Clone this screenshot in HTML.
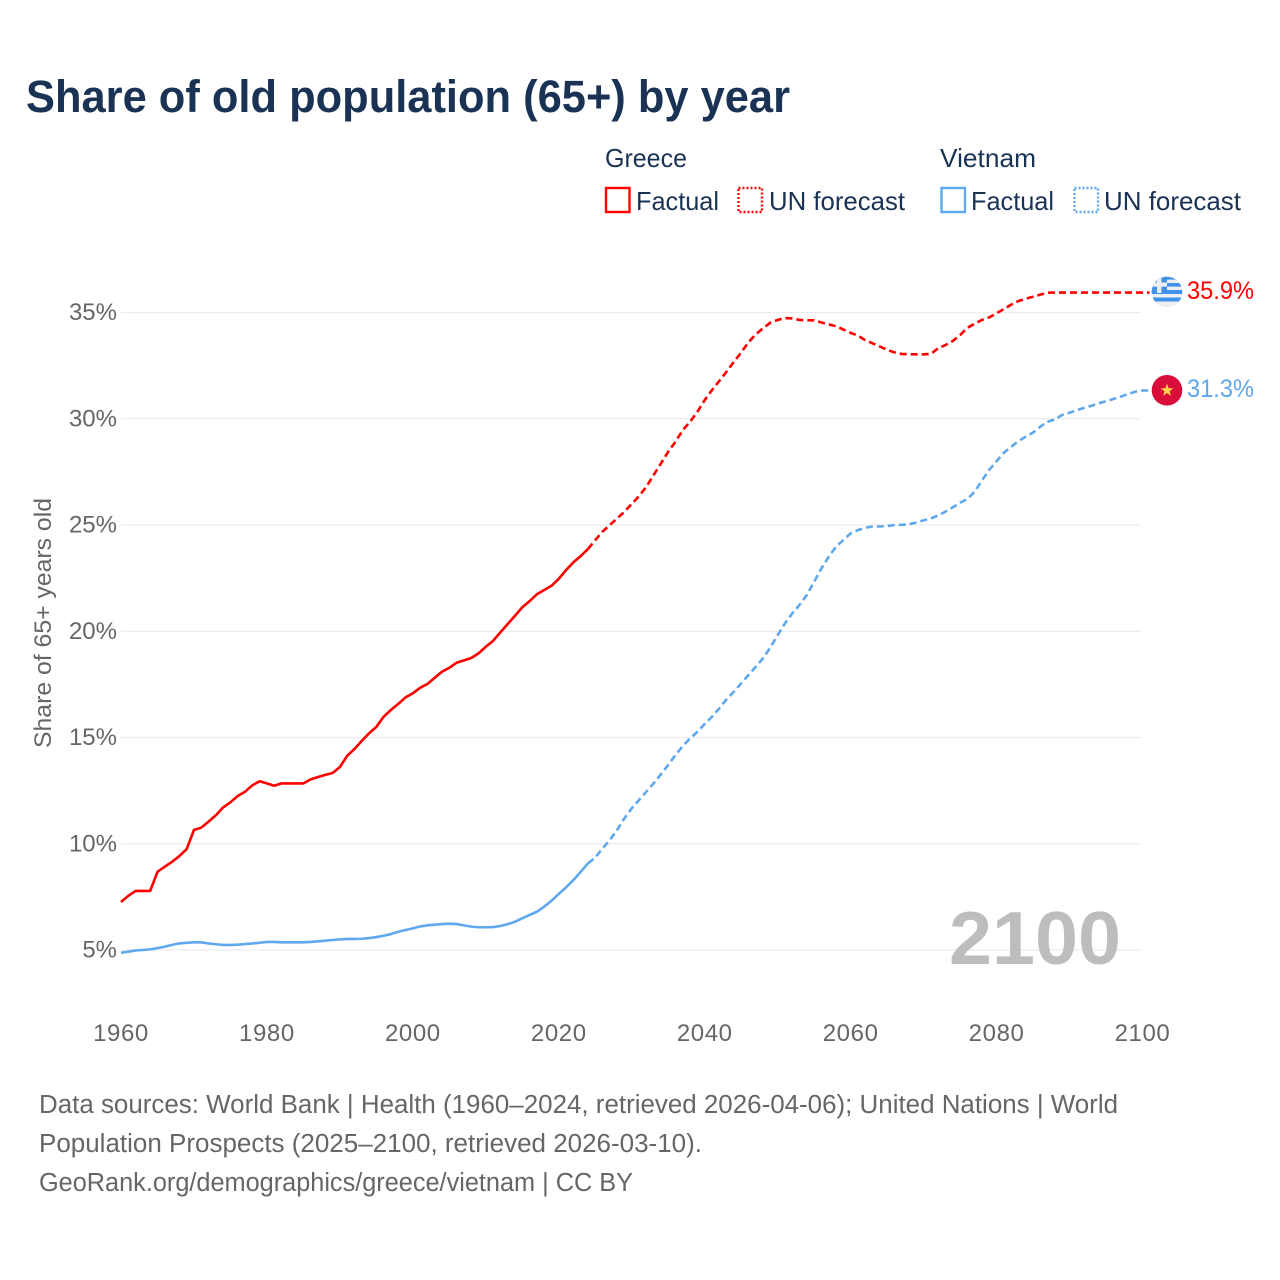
<!DOCTYPE html>
<html lang="en">
<head>
<meta charset="utf-8">
<title>Share of old population (65+) by year</title>
<style>
html,body{margin:0;padding:0;background:#fff;}
svg{display:block;font-family:"Liberation Sans",sans-serif;}
</style>
</head>
<body>
<svg id="chart" xmlns="http://www.w3.org/2000/svg" width="1280" height="1280" viewBox="0 0 1280 1280">
  <rect x="0" y="0" width="1280" height="1280" fill="#fff"/>
  <text x="26" y="112" font-size="45" font-weight="700" fill="#1a3355" textLength="764" lengthAdjust="spacingAndGlyphs">Share of old population (65+) by year</text>

  <g font-size="26" fill="#1a3355">
    <text x="605" y="167" textLength="82" lengthAdjust="spacingAndGlyphs">Greece</text>
    <rect x="606" y="188" width="23.5" height="24" fill="none" stroke="#ff0000" stroke-width="2.4"/>
    <text x="636" y="210" textLength="83" lengthAdjust="spacingAndGlyphs">Factual</text>
    <rect x="738.5" y="188" width="23.5" height="24" fill="none" stroke="#ff0000" stroke-width="2.4" stroke-dasharray="2 2"/>
    <text x="769" y="210" textLength="136" lengthAdjust="spacingAndGlyphs">UN forecast</text>
    <text x="940" y="167" textLength="96" lengthAdjust="spacingAndGlyphs">Vietnam</text>
    <rect x="941.5" y="188" width="23.5" height="24" fill="none" stroke="#5fa8ee" stroke-width="2.4"/>
    <text x="971" y="210" textLength="83" lengthAdjust="spacingAndGlyphs">Factual</text>
    <rect x="1074.5" y="188" width="23.5" height="24" fill="none" stroke="#5fa8ee" stroke-width="2.4" stroke-dasharray="2 2"/>
    <text x="1104" y="210" textLength="137" lengthAdjust="spacingAndGlyphs">UN forecast</text>
  </g>

  <g id="grid"></g>
  <g id="yticks" font-size="24" fill="#666"></g>
  <g id="xticks" font-size="24" fill="#666" letter-spacing="0.6"></g>

  <text transform="translate(51,748) rotate(-90)" x="0" y="0" font-size="24" fill="#666" textLength="250" lengthAdjust="spacingAndGlyphs">Share of 65+ years old</text>

  <text x="949" y="964" font-size="75" font-weight="700" fill="#bdbdbd" textLength="172" lengthAdjust="spacingAndGlyphs">2100</text>

  <g id="series"></g>

  <defs>
    <clipPath id="greece-clip"><circle cx="1167" cy="292" r="15.3"/></clipPath>
    <clipPath id="vietnam-clip"><circle cx="1167" cy="390.3" r="15.3"/></clipPath>
  </defs>
  <g id="flag-greece" clip-path="url(#greece-clip)">
    <rect x="1151" y="276" width="32" height="32" fill="#eeeeee"/>
    <rect x="1151" y="276" width="32" height="3.6" fill="#3f92ea"/>
    <rect x="1151" y="283" width="32" height="3.6" fill="#3f92ea"/>
    <rect x="1151" y="290" width="32" height="4" fill="#3f92ea"/>
    <rect x="1151" y="297.5" width="32" height="4" fill="#3f92ea"/>
    <rect x="1151" y="276" width="16" height="17" fill="#3f92ea"/>
    <rect x="1157" y="276" width="4.4" height="17" fill="#eeeeee"/>
    <rect x="1151" y="282.5" width="16" height="4.2" fill="#eeeeee"/>
  </g>
  <g id="flag-vietnam" clip-path="url(#vietnam-clip)">
    <rect x="1151" y="375" width="32" height="32" fill="#d80d39"/>
    <polygon points="1167,383.6 1168.6,388.2 1173.4,388.3 1169.6,391.2 1171,395.8 1167,393.1 1163,395.8 1164.4,391.2 1160.6,388.3 1165.4,388.2" fill="#ffd24a"/>
  </g>

  <text id="label-greece" x="1187" y="299" font-size="25" fill="#ff0000" textLength="67" lengthAdjust="spacingAndGlyphs">35.9%</text>
  <text id="label-vietnam" x="1187" y="397" font-size="25" fill="#5fa8ee" textLength="67" lengthAdjust="spacingAndGlyphs">31.3%</text>

  <g font-size="25.5" fill="#666">
    <text x="39" y="1113" textLength="1079" lengthAdjust="spacingAndGlyphs">Data sources: World Bank | Health (1960–2024, retrieved 2026-04-06); United Nations | World</text>
    <text x="39" y="1152" textLength="663" lengthAdjust="spacingAndGlyphs">Population Prospects (2025–2100, retrieved 2026-03-10).</text>
    <text x="39" y="1191" textLength="594" lengthAdjust="spacingAndGlyphs">GeoRank.org/demographics/greece/vietnam | CC BY</text>
  </g>
</svg>

<script>
const xTickLabels = [1960, 1980, 2000, 2020, 2040, 2060, 2080, 2100];
const yTickLabels = [5, 10, 15, 20, 25, 30, 35];

const factualStartYear = 1960;
const forecastStartYear = 2024;

const greeceFactual = [7.26,7.55,7.78,7.78,7.78,8.68,8.92,9.15,9.42,9.75,10.65,10.76,11.04,11.34,11.71,11.95,12.25,12.45,12.75,12.94,12.84,12.73,12.84,12.84,12.84,12.84,13.03,13.14,13.24,13.33,13.61,14.14,14.46,14.84,15.2,15.5,15.98,16.3,16.58,16.89,17.08,17.34,17.52,17.81,18.1,18.28,18.52,18.63,18.74,18.96,19.27,19.55,19.95,20.34,20.73,21.13,21.42,21.74,21.94,22.14,22.47,22.88,23.24,23.54,23.87];

const greeceForecast = [23.87,24.29,24.69,25.0,25.31,25.63,25.99,26.36,26.8,27.35,27.9,28.45,28.92,29.47,29.86,30.33,30.88,31.35,31.78,32.22,32.68,33.12,33.6,33.97,34.26,34.52,34.65,34.74,34.72,34.65,34.63,34.63,34.53,34.44,34.35,34.2,34.04,33.91,33.7,33.55,33.4,33.24,33.12,33.05,33.03,33.03,33.03,33.05,33.32,33.47,33.66,33.94,34.28,34.47,34.65,34.77,34.96,35.16,35.37,35.54,35.65,35.74,35.84,35.93,35.94,35.94,35.94,35.94,35.94,35.94,35.94,35.94,35.94,35.94,35.94,35.94,35.94];

const vietnamFactual = [4.87,4.92,4.98,5.0,5.03,5.09,5.16,5.24,5.31,5.34,5.36,5.36,5.31,5.27,5.24,5.24,5.25,5.28,5.31,5.34,5.38,5.38,5.36,5.36,5.36,5.36,5.38,5.41,5.44,5.47,5.5,5.52,5.52,5.53,5.56,5.61,5.67,5.75,5.86,5.94,6.02,6.11,6.16,6.19,6.22,6.24,6.22,6.16,6.1,6.07,6.07,6.08,6.13,6.22,6.33,6.49,6.65,6.8,7.04,7.32,7.64,7.95,8.29,8.68,9.08];

const vietnamForecast = [9.08,9.35,9.78,10.18,10.65,11.2,11.67,12.06,12.45,12.84,13.27,13.71,14.18,14.6,14.96,15.27,15.64,15.98,16.37,16.8,17.16,17.55,17.94,18.33,18.73,19.24,19.82,20.37,20.84,21.24,21.71,22.33,22.96,23.51,23.98,24.29,24.61,24.76,24.87,24.93,24.93,24.95,25.0,25.01,25.03,25.12,25.22,25.31,25.45,25.63,25.83,26.05,26.22,26.57,27.1,27.6,28.0,28.4,28.68,28.95,29.16,29.35,29.63,29.86,29.97,30.18,30.28,30.41,30.51,30.61,30.73,30.82,30.93,31.04,31.16,31.27,31.33];

const NS = 'http://www.w3.org/2000/svg';
const RED = '#ff0000';
const BLUE = '#5fa8ee';

function xScale(year) {
  return 121 + (year - 1960) * (1142.5 - 121) / 140;
}
function yScale(value) {
  return 950 - (value - 5) * 21.25;
}
function linePath(values, startYear, tail) {
  let d = '';
  for (let i = 0; i < values.length; i++) {
    d += (i === 0 ? 'M' : 'L') + xScale(startYear + i).toFixed(2) + ' ' + yScale(values[i]).toFixed(2);
  }
  if (tail) {
    d += 'L' + (xScale(startYear + values.length - 1) + tail).toFixed(2) + ' ' + yScale(values[values.length - 1]).toFixed(2);
  }
  return d;
}

const gridGroup = document.getElementById('grid');
const yGroup = document.getElementById('yticks');
const xGroup = document.getElementById('xticks');
const seriesGroup = document.getElementById('series');

yTickLabels.forEach(function (tick) {
  const line = document.createElementNS(NS, 'line');
  
  
  line.setAttribute('x1', 121);
  line.setAttribute('x2', 1141);
  line.setAttribute('y1', yScale(tick));
  line.setAttribute('y2', yScale(tick));
  line.setAttribute('stroke', '#ececec');
  line.setAttribute('stroke-width', '1.2');
  gridGroup.appendChild(line);

  const label = document.createElementNS(NS, 'text');
  
  
  label.setAttribute('x', 117);
  label.setAttribute('y', yScale(tick) + 7.5);
  label.setAttribute('text-anchor', 'end');
  label.textContent = tick + '%';
  yGroup.appendChild(label);
});

xTickLabels.forEach(function (tick) {
  const label = document.createElementNS(NS, 'text');
  
  
  label.setAttribute('x', xScale(tick));
  label.setAttribute('y', 1041);
  label.setAttribute('text-anchor', 'middle');
  label.textContent = tick;
  xGroup.appendChild(label);
});

function addSeries(name, values, startYear, color, dashed, tail) {
  const path = document.createElementNS(NS, 'path');
  
  
  path.setAttribute('d', linePath(values, startYear, tail));
  path.setAttribute('fill', 'none');
  path.setAttribute('stroke', color);
  path.setAttribute('stroke-width', '2.6');
  path.setAttribute('stroke-linejoin', 'round');
  if (dashed) {
    path.setAttribute('stroke-dasharray', '7 4');
  }
  seriesGroup.appendChild(path);
}

addSeries('vietnam-factual-line', vietnamFactual, factualStartYear, BLUE, false, 0);
addSeries('vietnam-forecast-line', vietnamForecast, forecastStartYear, BLUE, true, 7);
addSeries('greece-factual-line', greeceFactual, factualStartYear, RED, false, 0);
addSeries('greece-forecast-line', greeceForecast, forecastStartYear, RED, true, 7);
</script>
</body>
</html>
